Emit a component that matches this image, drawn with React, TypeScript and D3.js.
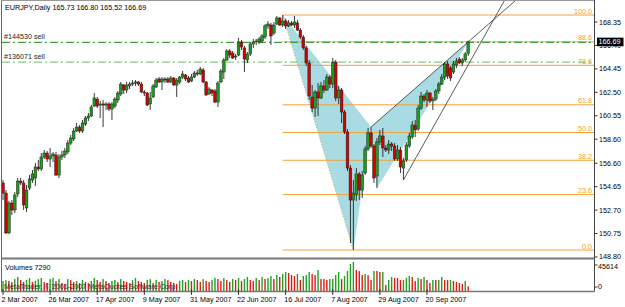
import React from 'react';
import * as d3 from 'd3';

const W = 625;
const H = 307;

const symbolTitle = 'EURJPY,Daily  165.73 166.80 165.52 166.69';

const opens = [154.96,154.12,150.80,153.29,152.71,154.04,155.12,154.96,152.88,154.54,155.21,155.37,156.29,156.12,157.12,157.45,156.95,157.20,157.29,155.62,157.12,157.29,157.54,158.28,158.62,159.28,159.61,159.28,159.86,160.36,160.53,161.36,161.94,161.44,161.53,161.44,161.53,161.11,161.36,161.86,162.36,163.11,162.69,163.03,163.19,163.27,163.36,163.19,162.53,162.44,161.53,162.11,162.94,163.61,163.36,163.61,163.61,163.36,163.69,163.11,163.36,163.77,163.94,163.69,163.44,163.77,164.11,164.02,164.36,163.36,162.36,162.69,162.61,161.69,163.36,164.19,165.19,165.94,165.77,165.44,165.60,166.69,166.19,165.19,165.69,166.52,166.69,166.69,166.77,167.10,168.02,168.10,167.43,168.18,168.68,168.10,168.43,168.02,168.27,168.10,168.27,167.68,167.10,166.19,164.94,162.11,161.19,162.53,162.03,163.03,162.69,163.77,163.19,165.02,162.03,162.69,160.86,159.20,156.20,153.54,153.96,155.71,154.37,155.79,157.79,159.12,158.03,155.54,158.37,158.87,157.87,157.70,158.20,158.03,156.95,157.70,156.20,156.87,158.03,158.78,159.78,159.45,161.19,162.19,161.86,162.44,161.78,161.94,162.61,163.19,163.77,164.86,164.52,164.19,164.77,165.27,164.94,165.19,165.73];
const highs = [155.21,154.37,153.46,153.54,154.21,155.37,155.37,155.21,154.79,155.62,156.04,156.62,156.87,157.45,157.70,157.62,157.87,157.54,157.54,157.37,157.62,157.87,158.53,158.95,159.53,159.95,159.78,160.20,160.53,160.78,161.44,162.44,162.11,161.78,161.86,161.69,161.69,161.69,162.11,162.61,163.36,163.19,163.36,163.36,163.52,163.52,163.44,163.36,162.69,162.53,162.53,163.19,163.69,163.77,163.77,163.77,163.77,163.86,163.77,163.69,163.86,164.27,164.02,163.86,164.02,164.27,164.36,164.61,164.52,163.44,162.94,162.78,162.78,163.44,164.44,165.35,166.10,166.10,165.94,165.69,167.02,166.85,166.35,165.85,166.69,166.94,166.94,167.10,167.35,168.18,168.43,168.27,168.35,168.85,168.77,168.93,168.60,168.52,168.43,168.85,168.52,167.85,167.27,166.35,165.19,163.11,162.69,163.27,163.36,163.52,164.02,163.94,165.35,165.19,163.03,162.86,161.03,159.45,156.45,155.21,156.20,155.87,155.95,158.03,159.53,159.61,158.20,158.70,159.37,159.53,158.12,158.53,158.37,158.28,158.12,157.95,157.04,158.37,159.12,160.11,160.20,161.44,162.53,162.36,162.69,162.53,162.11,162.78,163.36,164.02,165.02,165.11,164.69,165.11,165.35,165.44,165.35,165.85,166.80];
const lows = [153.54,150.71,150.71,152.29,152.46,153.79,154.79,152.71,152.54,154.37,154.96,154.71,155.95,155.95,156.95,156.70,156.29,156.70,155.54,155.37,156.87,157.04,157.37,158.12,158.45,159.20,159.12,159.12,159.70,160.11,160.45,161.28,161.19,160.36,159.61,161.03,160.94,160.20,161.19,161.61,162.19,162.36,162.44,162.78,163.03,163.03,163.03,162.44,162.19,161.36,161.03,162.03,162.86,163.27,162.69,163.27,163.27,163.27,163.03,162.11,163.19,163.61,163.44,163.27,163.36,163.69,163.86,163.94,163.27,162.19,162.28,162.19,161.61,161.28,163.27,163.61,165.11,165.35,165.27,165.19,165.52,166.02,164.19,164.94,165.52,166.19,166.44,166.52,166.60,166.94,167.77,166.44,167.27,168.10,168.02,167.93,167.77,167.93,168.02,167.85,167.60,166.94,166.02,164.69,161.86,160.86,160.45,160.53,161.94,162.44,162.61,162.86,162.86,161.78,161.53,159.95,159.03,155.95,149.96,149.38,153.46,153.54,153.71,155.62,157.62,157.87,154.96,154.54,158.12,157.12,157.54,157.37,157.62,156.79,156.79,155.79,155.21,156.70,157.87,158.62,158.78,159.28,161.03,161.69,161.28,161.61,161.03,161.78,162.36,163.11,163.52,163.61,163.44,164.02,164.52,164.86,164.69,165.02,165.52];
const closes = [154.12,150.80,153.29,152.71,153.96,155.12,154.96,153.13,154.37,155.29,155.71,156.29,156.12,157.12,157.45,156.95,157.20,157.37,155.62,157.12,157.29,157.62,158.28,158.70,159.28,159.61,159.28,159.95,160.36,160.53,161.28,162.03,161.36,161.53,161.44,161.53,161.11,161.53,161.94,162.44,163.19,162.69,163.11,163.19,163.27,163.36,163.19,162.53,162.44,161.44,162.03,163.03,163.52,163.36,163.61,163.52,163.36,163.69,163.11,163.52,163.77,164.02,163.61,163.36,163.77,164.11,164.02,164.44,163.36,162.28,162.78,162.44,161.69,163.27,164.27,165.19,165.94,165.60,165.35,165.52,166.69,166.27,165.27,165.69,166.52,166.69,166.77,166.94,167.19,168.02,168.18,167.19,168.10,168.68,168.10,168.43,168.02,168.27,168.10,168.35,167.68,167.10,166.19,164.94,162.19,161.19,162.53,162.03,163.03,162.69,163.77,163.19,165.02,162.03,162.69,160.86,159.20,156.20,153.54,154.12,155.71,154.37,155.62,157.79,159.12,158.03,155.37,158.37,158.87,157.87,157.70,158.20,158.03,156.95,157.70,156.29,156.79,158.12,158.87,159.78,159.37,161.19,162.19,161.86,162.44,161.78,161.94,162.61,163.19,163.77,164.86,163.86,163.69,164.86,165.11,164.94,165.19,165.69,166.69];
const volumes = [15620,17410,15880,14050,18920,22170,17260,14330,17590,20310,14210,15940,18650,20520,13980,12710,19020,20380,15560,18740,12450,11120,18830,17150,14280,15690,12630,17340,14120,12540,15810,20610,17280,14190,18960,15570,12690,15920,17470,14060,18810,15740,14350,12480,17210,20470,15650,14230,12580,17390,18720,12410,17560,14170,15830,18990,17120,14260,12750,11040,15780,17330,14110,17480,15610,18870,17240,14320,18680,15950,14090,17370,20560,18790,15710,20420,17190,14270,18930,17450,20380,15660,18840,22090,17310,15870,20530,17180,21960,18910,20470,23640,18770,25210,22130,26690,29930,28270,25140,23510,26830,17380,23620,25090,29840,26710,25230,33010,18950,18820,17290,18870,19040,25170,29950,18760,23540,31480,42510,45614,33120,31390,25260,26780,25110,17240,31550,31420,29820,29910,9510,17350,22040,20490,20380,17260,17410,20520,23570,21980,15760,20430,18900,22060,17320,12610,17390,17270,17430,22110,17360,17210,17340,15720,14290,12630,11080,15690,7290];

const dateLabels = ['2 Mar 2007', '26 Mar 2007', '17 Apr 2007', '9 May 2007', '31 May 2007', '22 Jun 2007', '16 Jul 2007', '7 Aug 2007', '29 Aug 2007', '20 Sep 2007'];
const dateBarIndex = [0, 16, 32, 48, 64, 80, 96, 112, 128, 144];

const priceTickLabels = ['168.35', '166.40', '164.45', '162.50', '160.55', '158.60', '156.60', '154.65', '152.70', '150.75', '148.80'];
const priceTickValues = [168.35, 166.40, 164.45, 162.50, 160.55, 158.60, 156.60, 154.65, 152.70, 150.75, 148.80];

const fibLevels = [0, 23.6, 38.2, 50, 61.8, 78.6, 88.6, 100];
const fibLevelLabels = ['0.0', '23.6', '38.2', '50.0', '61.8', '78.6', '88.6', '100.0'];
const fibHighPrice = 168.93;
const fibLowPrice = 149.38;
const fibHighBar = 95;
const fibLowBar = 119;

// harmonic pattern points: [bar, price]
const triangle1 = [[95, 168.93], [119, 149.38], [125, 159.61]];
const triangle2 = [[125, 159.61], [127, 154.54], [158, 166.69]];
const trendline1 = [[125, 159.61], [158, 166.69]];
const trendline2 = [[136, 155.21], [150, 161.30]];

const sellOrderLabels = ['#144530 sell', '#136071 sell'];
const sellOrderPrices = [166.66, 165.02];
const sellOrderColors = ['#3f9f3f', '#86c986'];

const lastPriceLabel = '166.69';
const lastPrice = 166.69;
const volumeMaxLabel = '45614';
const volumeTitle = 'Volumes 7290';
const copyright = 'MetaTrader, \u00a9 2001-2007 MetaQuotes Software Corp.';

const FONT = '"Liberation Sans", Arial, sans-serif';
const FS = 7.2;

export default function App() {
  const left = 2;
  const axisX = 594.5;
  const mainTop = 1;
  const mainBottom = 257.5;
  const volTop = 259.5;
  const volBottom = 291.5;

  const x = d3.scaleLinear().domain([0, 158]).range([3, 468.2]);
  const y = d3.scaleLinear().domain([148.80, 168.35]).range([257, 22]);
  const yv = d3.scaleLinear().domain([0, 45614]).range([291, 262]);

  const fibColor = '#f2a43a';
  const orange = '#f0a030';
  const green = '#1d9d1d';
  const red = '#d40000';

  const fibXStart = x(fibHighBar);

  const tri = (pts: number[][]) => pts.map(p => `${x(p[0])},${y(p[1])}`).join(' ');

  const rayEnd = (pts: number[][]) => {
    const x1 = x(pts[0][0]), y1 = y(pts[0][1]);
    const x2 = x(pts[1][0]), y2 = y(pts[1][1]);
    const slope = (y2 - y1) / (x2 - x1);
    const yEnd = mainTop;
    const xEnd = x1 + (yEnd - y1) / slope;
    return { x1, y1, x2: xEnd, y2: yEnd };
  };
  const r1 = rayEnd(trendline1);
  const r2 = rayEnd(trendline2);

  const candleIdx = d3.range(opens.length);
  const boxTop = y(lastPrice) - 4.3;
  const boxBottom = y(lastPrice) + 4.3;

  return (
    <svg width={W} height={H} style={{ position: 'absolute', left: 0, top: 0, background: '#fff' }} fontFamily={FONT}>
      <defs>
        <clipPath id="mainClip">
          <rect x={left} y={mainTop} width={axisX - left} height={mainBottom - mainTop} />
        </clipPath>
        <clipPath id="volClip">
          <rect x={left} y={volTop} width={axisX - left} height={volBottom - volTop} />
        </clipPath>
        <clipPath id="belowBox">
          <rect x={595} y={boxBottom} width={30} height={10} />
        </clipPath>
      </defs>
      <rect x={0} y={0} width={W} height={H} fill="#fff" />

      <g clipPath="url(#mainClip)">
        <polygon points={tri(triangle1)} fill="#a9dbe3" />
        <polygon points={tri(triangle2)} fill="#a9dbe3" />

        {fibLevels.map((lv, i) => {
          const yy = y(fibLowPrice + (fibHighPrice - fibLowPrice) * lv / 100);
          return (
            <g key={'fib' + i}>
              <line x1={fibXStart} x2={axisX} y1={yy} y2={yy} stroke={fibColor} strokeWidth={1} />
              <text x={592} y={yy - 1.5} fontSize={FS} fill={orange} textAnchor="end">{fibLevelLabels[i]}</text>
            </g>
          );
        })}
        <line x1={x(fibHighBar)} y1={y(fibHighPrice)} x2={x(fibLowBar)} y2={y(fibLowPrice)} stroke={orange} strokeWidth={1} strokeDasharray="1,2" />

        {sellOrderPrices.map((p, i) => (
          <g key={'sell' + i}>
            <line x1={left} x2={axisX} y1={y(p)} y2={y(p)} stroke={sellOrderColors[i]} strokeWidth={1.2} strokeDasharray="8,3,2,3" />
            <text x={4} y={y(p) - 3} fontSize={FS} fill="#222">{sellOrderLabels[i]}</text>
          </g>
        ))}

        {candleIdx.map(i => {
          const cx = x(i);
          const up = closes[i] >= opens[i];
          const yo = y(opens[i]);
          const yc = y(closes[i]);
          const top = Math.min(yo, yc);
          const h = Math.max(Math.abs(yo - yc), 0.8);
          return (
            <g key={'c' + i}>
              <line x1={cx} x2={cx} y1={y(highs[i])} y2={y(lows[i])} stroke="#222" strokeWidth={0.9} />
              <rect x={cx - 1.35} y={top} width={2.7} height={h} fill={up ? green : red} stroke="#222" strokeWidth={0.5} />
            </g>
          );
        })}

        <line x1={r1.x1} y1={r1.y1} x2={r1.x2} y2={r1.y2} stroke="#333" strokeWidth={0.8} />
        <line x1={r2.x1} y1={r2.y1} x2={r2.x2} y2={r2.y2} stroke="#333" strokeWidth={0.8} />
      </g>

      <text x={5} y={10} fontSize={FS} fill="#000">{symbolTitle}</text>

      <g clipPath="url(#volClip)">
        {volumes.map((v, i) => {
          const col = i === 0 || v >= volumes[i - 1] ? '#22a022' : '#e01818';
          return <rect key={'v' + i} x={x(i) - 0.7} y={yv(v)} width={1.4} height={yv(0) - yv(v)} fill={col} />;
        })}
      </g>
      <text x={5} y={270} fontSize={FS} fill="#000">{volumeTitle}</text>
      <text x={4} y={289} fontSize={FS} fill="#333">{copyright}</text>

      <line x1={1.5} x2={1.5} y1={0} y2={volBottom} stroke="#666" strokeWidth={1} />
      <line x1={1} x2={axisX} y1={0.5} y2={0.5} stroke="#999" strokeWidth={1} />
      <line x1={axisX} x2={axisX} y1={0} y2={volBottom} stroke="#444" strokeWidth={1} />
      <line x1={1} x2={axisX} y1={258.5} y2={258.5} stroke="#777" strokeWidth={2} />
      <line x1={1} x2={axisX} y1={volBottom} y2={volBottom} stroke="#777" strokeWidth={1.5} />

      {priceTickValues.map((p, i) => {
        const isLast = i === priceTickValues.length - 1;
        return (
          <g key={'pt' + i}>
            <line x1={axisX} x2={axisX + 3} y1={y(p)} y2={y(p)} stroke="#333" />
            <text x={599} y={isLast ? y(p) + 1.5 : y(p) + 2.5} fontSize={FS} fill="#000" clipPath={Math.abs(p - lastPrice) < 0.6 ? 'url(#belowBox)' : undefined}>{priceTickLabels[i]}</text>
          </g>
        );
      })}
      <rect x={597} y={boxTop} width={26.5} height={boxBottom - boxTop} fill="#000" />
      <text x={598.5} y={y(lastPrice) + 2.5} fontSize={FS} fill="#fff">{lastPriceLabel}</text>

      <text x={598} y={268.5} fontSize={FS} fill="#000">{volumeMaxLabel}</text>
      <text x={598} y={289} fontSize={FS} fill="#000">0</text>
      <line x1={axisX} x2={axisX + 3} y1={265} y2={265} stroke="#333" />
      <line x1={axisX} x2={axisX + 3} y1={287} y2={287} stroke="#333" />

      {dateBarIndex.map((b, i) => (
        <g key={'d' + i}>
          <line x1={x(b)} x2={x(b)} y1={289} y2={295} stroke="#333" />
          <text x={x(b) - 1.5} y={302} fontSize={FS} fill="#000">{dateLabels[i]}</text>
        </g>
      ))}
    </svg>
  );
}
